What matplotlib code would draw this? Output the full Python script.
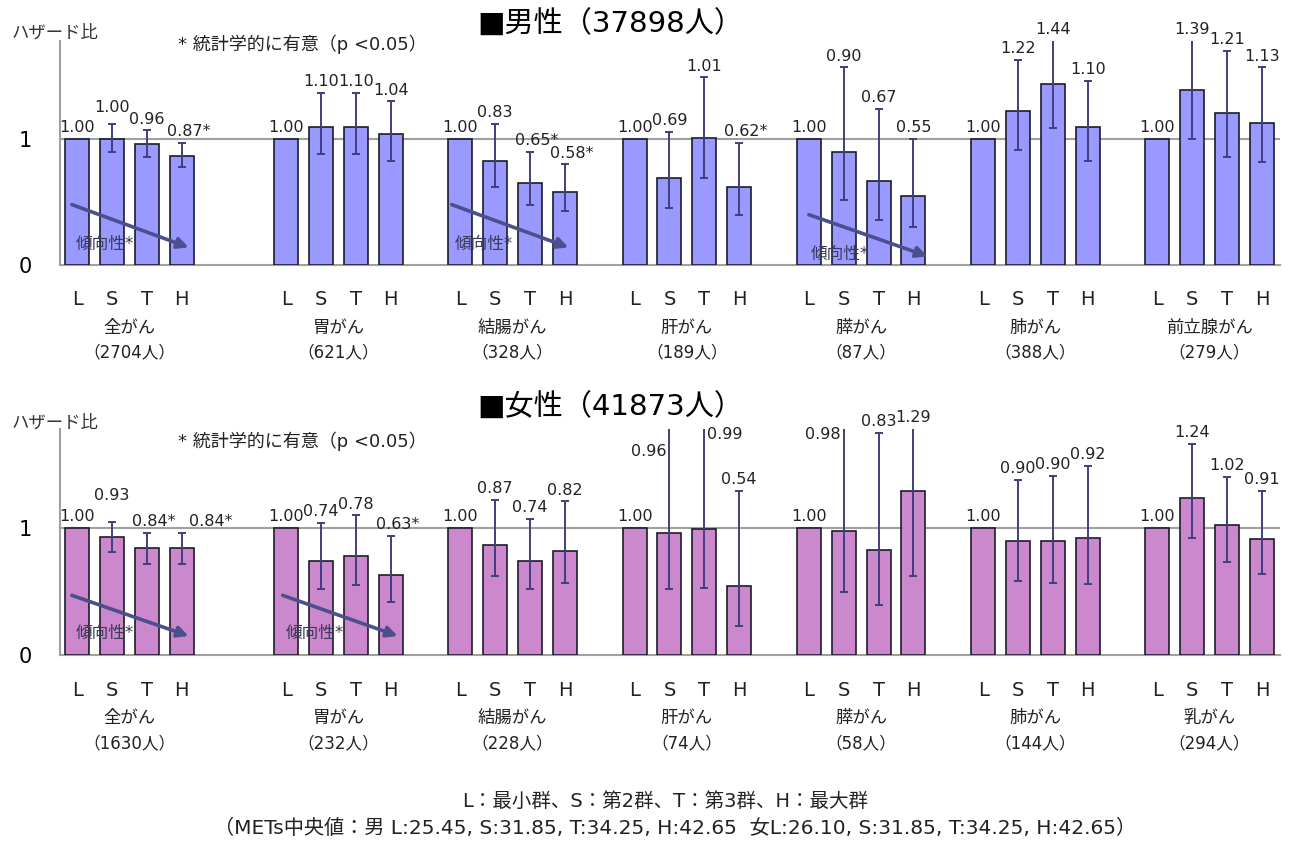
import matplotlib
matplotlib.use("Agg")
import matplotlib.pyplot as plt
import numpy as np

# DejaVu for latin (wide like the original), Noto CJK for Japanese
plt.rcParams['font.family'] = ['DejaVu Sans', 'Noto Sans CJK JP']

nan = np.nan

# data
levels = ["L", "S", "T", "H"]

male_sites = ["全がん", "胃がん", "結腸がん", "肝がん", "膵がん", "肺がん", "前立腺がん"]
male_n = [2704, 621, 328, 189, 87, 388, 279]
male_hr = [[1.00, 1.00, 0.96, 0.87], [1.00, 1.10, 1.10, 1.04], [1.00, 0.83, 0.65, 0.58],
           [1.00, 0.69, 1.01, 0.62], [1.00, 0.90, 0.67, 0.55], [1.00, 1.22, 1.44, 1.10],
           [1.00, 1.39, 1.21, 1.13]]
male_lo = [[nan, 0.90, 0.86, 0.78], [nan, 0.88, 0.88, 0.83], [nan, 0.62, 0.48, 0.43],
           [nan, 0.45, 0.69, 0.40], [nan, 0.52, 0.36, 0.30], [nan, 0.91, 1.09, 0.83],
           [nan, 1.00, 0.86, 0.82]]
male_hi = [[nan, 1.12, 1.07, 0.97], [nan, 1.37, 1.37, 1.30], [nan, 1.12, 0.90, 0.80],
           [nan, 1.06, 1.49, 0.97], [nan, 1.57, 1.24, 1.00], [nan, 1.63, 1.81, 1.46],
           [nan, 1.81, 1.70, 1.57]]
male_sig = [[0, 0, 0, 1], [0, 0, 0, 0], [0, 0, 1, 1], [0, 0, 0, 1],
            [0, 0, 0, 0], [0, 0, 0, 0], [0, 0, 0, 0]]
male_trend = [0, 2, 4]

female_sites = ["全がん", "胃がん", "結腸がん", "肝がん", "膵がん", "肺がん", "乳がん"]
female_n = [1630, 232, 228, 74, 58, 144, 294]
female_hr = [[1.00, 0.93, 0.84, 0.84], [1.00, 0.74, 0.78, 0.63], [1.00, 0.87, 0.74, 0.82],
             [1.00, 0.96, 0.99, 0.54], [1.00, 0.98, 0.83, 1.29], [1.00, 0.90, 0.90, 0.92],
             [1.00, 1.24, 1.02, 0.91]]
female_lo = [[nan, 0.81, 0.72, 0.72], [nan, 0.52, 0.55, 0.42], [nan, 0.62, 0.52, 0.57],
             [nan, 0.52, 0.53, 0.23], [nan, 0.50, 0.39, 0.62], [nan, 0.58, 0.57, 0.56],
             [nan, 0.92, 0.73, 0.64]]
female_hi = [[nan, 1.05, 0.96, 0.96], [nan, 1.04, 1.10, 0.94], [nan, 1.22, 1.07, 1.21],
             [nan, 1.80, 1.80, 1.29], [nan, 1.80, 1.75, 1.80], [nan, 1.38, 1.41, 1.49],
             [nan, 1.66, 1.40, 1.29]]
female_sig = [[0, 0, 1, 1], [0, 0, 0, 1], [0, 0, 0, 0], [0, 0, 0, 0],
              [0, 0, 0, 0], [0, 0, 0, 0], [0, 0, 0, 0]]
female_trend = [0, 1]

# layout
group_start = [0, 6, 11, 16, 21, 26, 31]
YMAX = 1.78
GRAY = "#a0a0a0"
ERR = "#3f3f7f"
TXT = "#222222"

# label position overrides (group, level) -> (dx, y or None, ha)
male_label_fix = {(0, 1): (0.0, 1.25, "center")}
female_label_fix = {(0, 1): (0.0, 1.26, "center"), (0, 3): (0.65, None, "center"),
                    (3, 1): (-0.08, 1.60, "right"), (3, 2): (0.08, 1.74, "left"),
                    (4, 1): (-0.08, 1.74, "right")}
# trend arrow geometry per group: (x0, y0, x1, y1, tx, ty) relative to group start
male_arrow = {0: (-0.15, 0.48, 3.2, 0.14, -0.05, 0.17),
              2: (-0.25, 0.48, 3.1, 0.14, -0.15, 0.17),
              4: (0.0, 0.40, 3.4, 0.07, 0.05, 0.09)}
female_arrow = {0: (-0.15, 0.47, 3.2, 0.15, -0.05, 0.17),
                1: (-0.1, 0.47, 3.2, 0.15, 0.0, 0.17)}


def draw_panel(ax, sites, counts, hr, lo, hi, sig, trend, arrows, color, fix):
    xt = ax.get_xaxis_transform()
    for g in range(len(sites)):
        x = np.arange(4) + group_start[g]
        h = np.array(hr[g])
        l = np.array(lo[g])
        u = np.array(hi[g])
        ax.bar(x, h, width=0.69, color=color, edgecolor="#1c1c2a", linewidth=1.2, zorder=3)
        m = ~np.isnan(l)
        ax.errorbar(x[m], h[m], yerr=[h[m] - l[m], u[m] - h[m]], fmt="none",
                    ecolor=ERR, elinewidth=1.4, capsize=3, capthick=1.4, zorder=4)
        for i in range(4):
            lab = f"{h[i]:.2f}" + ("*" if sig[g][i] else "")
            top = h[i] if np.isnan(u[i]) else min(u[i], YMAX)
            dx = 0.2 if sig[g][i] else 0.0
            yy, ha, va = top + 0.03, "center", "bottom"
            if (g, i) in fix:
                fdx, fy, ha = fix[(g, i)]
                dx += fdx
                if fy is not None:
                    yy, va = fy, "center"
            ax.text(x[i] + dx, yy, lab, ha=ha, va=va, fontsize=11.5, color=TXT, clip_on=False)
            ax.text(x[i], -0.156, levels[i], ha="center", va="center", fontsize=14,
                    transform=xt, color=TXT)
        ax.text(x[0] + 1.5, -0.28, sites[g], ha="center", va="center", fontsize=12.5,
                transform=xt, color=TXT)
        ax.text(x[0] + 1.5, -0.39, f"（{counts[g]}人）", ha="center", va="center",
                fontsize=12, transform=xt, color=TXT)
    for g in trend:
        x0, y0, x1, y1, tx, ty = arrows[g]
        s = group_start[g]
        ax.annotate("", xy=(s + x1, y1), xytext=(s + x0, y0),
                    arrowprops=dict(arrowstyle="-|>", color="#4c4f8e", lw=2.6,
                                    mutation_scale=16, shrinkA=0, shrinkB=0), zorder=5)
        ax.text(s + tx, ty, "傾向性*", ha="left", va="center", fontsize=12,
                color="#3a3a5a", zorder=6)

    ax.axhline(1, color=GRAY, lw=1.5, zorder=2)
    ax.set_xlim(-0.49, 34.52)
    ax.set_ylim(0, YMAX)
    ax.set_yticks([0, 1])
    ax.set_yticklabels(["0", "1"], fontsize=15)
    ax.tick_params(axis="y", length=0, pad=20)
    ax.set_xticks([])
    for sp in ["top", "right"]:
        ax.spines[sp].set_visible(False)
    for sp in ["left", "bottom"]:
        ax.spines[sp].set_color(GRAY)
        ax.spines[sp].set_linewidth(1.5)


fig = plt.figure(figsize=(12.93, 8.41), dpi=100)
W, H = 1293, 841
ax1 = fig.add_axes([60 / W, 1 - 265 / H, 1220 / W, 224 / H])
ax2 = fig.add_axes([60 / W, 1 - 655 / H, 1220 / W, 226 / H])

draw_panel(ax1, male_sites, male_n, male_hr, male_lo, male_hi, male_sig, male_trend,
           male_arrow, "#9999ff", male_label_fix)
draw_panel(ax2, female_sites, female_n, female_hr, female_lo, female_hi, female_sig,
           female_trend, female_arrow, "#cc88cc", female_label_fix)

fig.text(610 / W, 1 - 25 / H, "■男性（37898人）", ha="center", va="center", fontsize=21)
fig.text(610 / W, 1 - 408 / H, "■女性（41873人）", ha="center", va="center", fontsize=21)
for yy in [33, 423]:
    fig.text(12 / W, 1 - yy / H, "ハザード比", ha="left", va="center", fontsize=12.5, color="#333333")
for yy in [44, 441]:
    fig.text(178 / W, 1 - yy / H, "* 統計学的に有意（p <0.05）", ha="left", va="center",
             fontsize=13, color=TXT)

fig.text(665 / W, 1 - 801 / H, "L：最小群、S：第2群、T：第3群、H：最大群", ha="center", va="center",
         fontsize=14, color=TXT)
fig.text(675 / W, 1 - 828 / H,
         "（METs中央値：男 L:25.45, S:31.85, T:34.25, H:42.65  女L:26.10, S:31.85, T:34.25, H:42.65）",
         ha="center", va="center", fontsize=14.5, color=TXT)

fig.savefig("out.png", dpi=100)
